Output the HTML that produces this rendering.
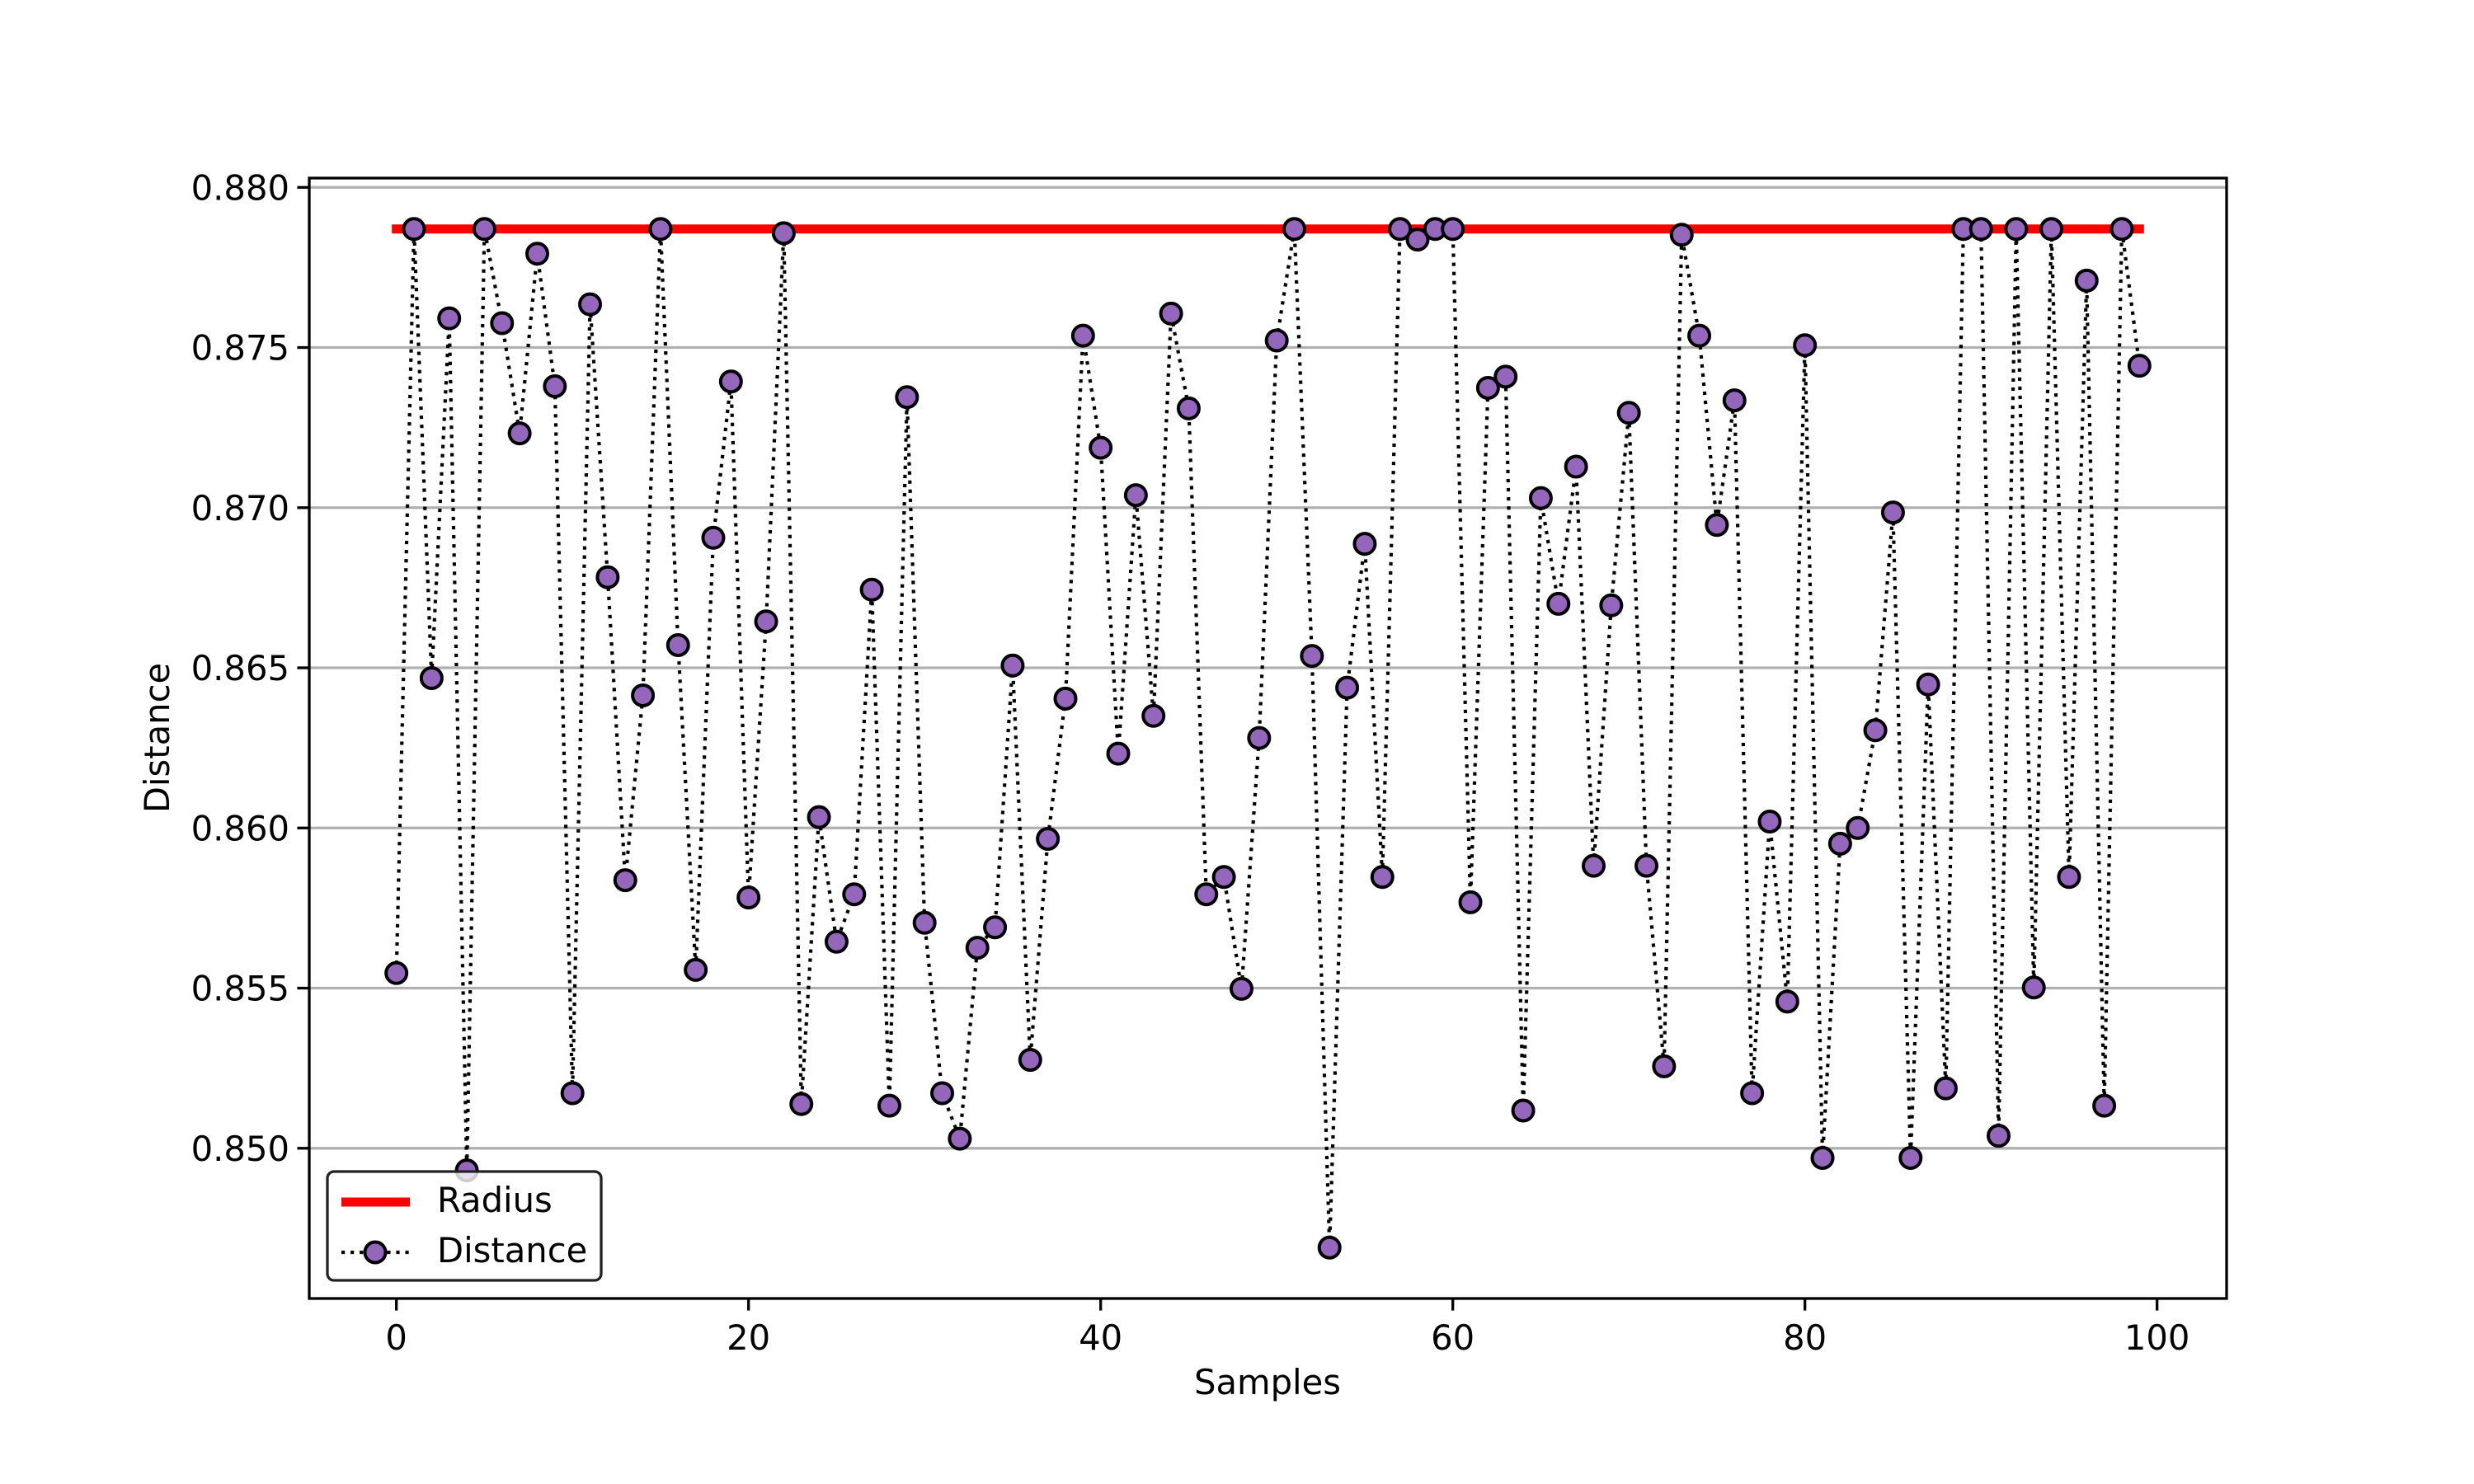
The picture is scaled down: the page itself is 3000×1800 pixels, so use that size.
<!DOCTYPE html>
<html><head><meta charset="utf-8"><style>
html,body{margin:0;padding:0;background:#fff;}
svg{display:block;}
text{font-family:"DejaVu Sans","Liberation Sans",sans-serif;fill:#000;}
</style></head><body>
<svg id="chart" width="3000" height="1800" viewBox="0 0 3000 1800" xmlns="http://www.w3.org/2000/svg">
<rect width="3000" height="1800" fill="#fff"/>
<g id="grid"></g>
<g id="series"></g>
<rect x="375" y="216" width="2325" height="1359" fill="none" stroke="#000" stroke-width="3.3"/>
<g id="ticks"></g>
<text x="1537" y="1691" font-size="41.7" text-anchor="middle">Samples</text>
<text transform="translate(205,895) rotate(-90)" font-size="41.7" text-anchor="middle">Distance</text>
<g>
<rect x="397" y="1421" width="332" height="132" rx="8" fill="#fff" fill-opacity="0.8" stroke="#222" stroke-width="3.3"/>
<line x1="414" y1="1458" x2="497" y2="1458" stroke="#ff0000" stroke-width="11"/>
<text x="530" y="1470" font-size="41.7">Radius</text>
<line x1="414" y1="1519" x2="497" y2="1519" stroke="#000" stroke-width="4.17" stroke-dasharray="4.17 6.9"/>
<circle cx="455" cy="1519" r="12.5" fill="#9467bd" stroke="#000" stroke-width="4"/>
<text x="530" y="1531" font-size="41.7">Distance</text>
</g>
</svg>
<script>
const samples = [0.85547,0.8787,0.86468,0.87591,0.84931,0.8787,0.87576,0.87232,0.87793,0.87379,
0.85172,0.87635,0.86783,0.85837,0.86414,0.8787,0.86571,0.85557,0.86906,0.87394,
0.85783,0.86645,0.87857,0.85138,0.86034,0.85645,0.85793,0.86744,0.85133,0.87345,
0.85704,0.85172,0.8503,0.85626,0.8569,0.86507,0.85276,0.85966,0.86404,0.87537,
0.87187,0.86232,0.87039,0.8635,0.87606,0.8731,0.85793,0.85847,0.85498,0.86281,
0.87522,0.8787,0.86537,0.8469,0.86438,0.86887,0.85847,0.8787,0.87837,0.8787,
0.8787,0.85768,0.87374,0.87409,0.85118,0.8703,0.867,0.87128,0.85882,0.86695,
0.87296,0.85882,0.85256,0.87852,0.87537,0.86946,0.87335,0.85172,0.8602,0.85458,
0.87507,0.8497,0.85951,0.86,0.86305,0.86985,0.8497,0.86448,0.85187,0.8787,
0.8787,0.85039,0.8787,0.85502,0.8787,0.85847,0.87709,0.85133,0.8787,0.87443];
const radius = [0.8787];
const xTicks = [0,20,40,60,80,100];
const yTicks = [0.850,0.855,0.860,0.865,0.870,0.875,0.880];

const NS="http://www.w3.org/2000/svg";
const L=375,R=2700,T=216,B=1575;
const n=samples.length;
const xmin=-0.05*(n-1), xmax=(n-1)*1.05;
const lo=Math.min(...samples,radius[0]), hi=Math.max(...samples,radius[0]);
const ymin=lo-0.05*(hi-lo), ymax=hi+0.05*(hi-lo);
const X=v=>L+(v-xmin)/(xmax-xmin)*(R-L);
const Y=v=>B-(v-ymin)/(ymax-ymin)*(B-T);
function mk(tag,attrs,parent){const e=document.createElementNS(NS,tag);for(const k in attrs)e.setAttribute(k,attrs[k]);parent.appendChild(e);return e;}
const grid=document.getElementById('grid'),ticks=document.getElementById('ticks'),series=document.getElementById('series');
yTicks.forEach(v=>{
  const y=Y(v);
  const g=mk('line',{x1:L,x2:R,y1:y,y2:y,stroke:'#b0b0b0','stroke-width':3.3},grid);
  
  
  const t=mk('line',{x1:L-14.6,x2:L,y1:y,y2:y,stroke:'#000','stroke-width':3.3},ticks);
  
  
  const tx=mk('text',{x:L-24,y:y+15,'font-size':41.7,'text-anchor':'end'},ticks);
  tx.textContent=v.toFixed(3);
  
  
});
xTicks.forEach(v=>{
  const x=X(v);
  const t=mk('line',{x1:x,x2:x,y1:B,y2:B+14.6,stroke:'#000','stroke-width':3.3},ticks);
  
  
  const tx=mk('text',{x:x,y:B+62,'font-size':41.7,'text-anchor':'middle'},ticks);
  tx.textContent=v;
  
  
});
const rl=mk('line',{x1:X(0),x2:X(n-1),y1:Y(radius[0]),y2:Y(radius[0]),stroke:'#ff0000','stroke-width':11,'stroke-linecap':'square'},series);


const pl=mk('polyline',{points:samples.map((v,i)=>X(i)+','+Y(v)).join(' '),fill:'none',stroke:'#000','stroke-width':4.17,'stroke-dasharray':'4.17 6.9'},series);


samples.forEach((v,i)=>{
  const c=mk('circle',{cx:X(i),cy:Y(v),r:12.5,fill:'#9467bd',stroke:'#000','stroke-width':4},series);
  
  
});
</script>
</body></html>
